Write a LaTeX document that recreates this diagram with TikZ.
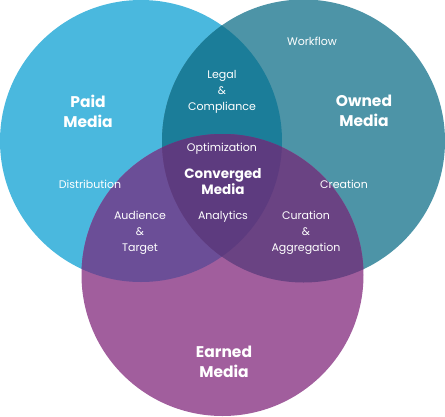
\documentclass[tikz,border=0pt]{standalone}
\usepackage{fontspec}
\setmainfont{Poppins}
\usepackage{tikz}

\definecolor{paidc}{HTML}{4AB8DE}
\definecolor{ownedc}{HTML}{4D94A7}
\definecolor{earnedc}{HTML}{A15E9D}
\definecolor{paidowned}{HTML}{1B7D99}
\definecolor{paidearned}{HTML}{6B4E97}
\definecolor{ownedearned}{HTML}{6A4383}
\definecolor{allthree}{HTML}{5D3B7F}

\tikzset{
	label/.style={text=white, font=\fontsize{11}{16}\selectfont, align=center, inner sep=0pt},
	title/.style={text=white, font=\fontsize{15.5}{20}\selectfont\bfseries, align=center, inner sep=0pt}
}

\begin{document}
\begin{tikzpicture}[x=1pt, y=-1pt]
	\useasboundingbox (0,0) rectangle (445,416);
	\def\paid{(141,141) circle (141pt)}
	\def\owned{(303.5,141) circle (141.5pt)}
	\def\earned{(222.5,275) circle (141pt)}
	\fill[paidc] \paid;
	\fill[ownedc] \owned;
	\fill[earnedc] \earned;
	\begin{scope}
		\clip \paid;
		\fill[paidowned] \owned;
		\fill[paidearned] \earned;
	\end{scope}
	\begin{scope}
		\clip \owned;
		\fill[ownedearned] \earned;
	\end{scope}
	\begin{scope}
		\clip \paid;
		\clip \owned;
		\fill[allthree] \earned;
	\end{scope}
	% circle titles
	\node[title] (paidt) at (88,111) {Paid\\Media};
	\node[title] (ownedt) at (364,111) {Owned\\Media};
	\node[title] (earnedt) at (224,362) {Earned\\Media};
	\node[title, font=\fontsize{13.5}{16}\selectfont\bfseries] (convt) at (223,182) {Converged\\Media};
	% labels
	\node[label] (workflow) at (312,41) {Workflow};
	\node[label] (legal) at (222,92) {Legal\\\&\\Compliance};
	\node[label] (optim) at (222,149) {Optimization};
	\node[label] (distrib) at (90,184) {Distribution};
	\node[label] (creation) at (344,184) {Creation};
	\node[label] (audience) at (140,233) {Audience\\\&\\Target};
	\node[label] (analytics) at (223,217) {Analytics};
	\node[label] (curation) at (306,233) {Curation\\\&\\Aggregation};
\end{tikzpicture}
\end{document}
